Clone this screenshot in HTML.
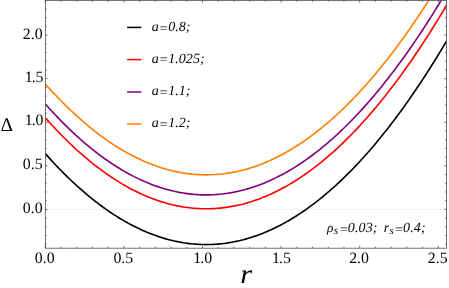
<!DOCTYPE html>
<html><head><meta charset="utf-8"><title>plot</title>
<style>html,body{margin:0;padding:0;background:#fff;overflow:hidden}svg{display:block;text-rendering:geometricPrecision;will-change:transform}</style>
</head><body>
<svg width="449" height="288" viewBox="0 0 449 288">
<defs><clipPath id="c"><rect x="45.35" y="0.4" width="401.05" height="247.80"/></clipPath></defs>
<rect width="449" height="288" fill="#fff"/>
<line x1="45.35" y1="209.4" x2="446.4" y2="209.4" stroke="#ececec" stroke-width="0.7"/>
<g clip-path="url(#c)" fill="none" stroke-width="1.62" stroke-linejoin="round">
<path d="M45.30,153.62 L47.33,155.89 L49.36,158.14 L51.39,160.36 L53.42,162.55 L55.45,164.71 L57.48,166.84 L59.51,168.95 L61.54,171.02 L63.57,173.07 L65.60,175.09 L67.63,177.08 L69.66,179.04 L71.69,180.97 L73.72,182.88 L75.75,184.75 L77.78,186.60 L79.81,188.41 L81.84,190.20 L83.87,191.96 L85.90,193.69 L87.93,195.40 L89.96,197.07 L91.99,198.71 L94.02,200.33 L96.05,201.91 L98.08,203.47 L100.11,205.00 L102.14,206.50 L104.17,207.97 L106.21,209.41 L108.24,210.83 L110.27,212.21 L112.30,213.56 L114.33,214.89 L116.36,216.19 L118.39,217.46 L120.42,218.70 L122.45,219.91 L124.48,221.09 L126.51,222.24 L128.54,223.36 L130.57,224.46 L132.60,225.52 L134.63,226.56 L136.66,227.57 L138.69,228.54 L140.72,229.49 L142.75,230.41 L144.78,231.31 L146.81,232.17 L148.84,233.00 L150.87,233.81 L152.90,234.58 L154.93,235.33 L156.96,236.05 L158.99,236.73 L161.02,237.39 L163.05,238.03 L165.08,238.63 L167.11,239.20 L169.14,239.74 L171.17,240.26 L173.20,240.74 L175.23,241.20 L177.26,241.63 L179.29,242.03 L181.32,242.40 L183.35,242.74 L185.38,243.05 L187.41,243.33 L189.44,243.58 L191.47,243.81 L193.50,244.00 L195.53,244.17 L197.56,244.31 L199.59,244.42 L201.62,244.50 L203.65,244.55 L205.68,244.57 L207.71,244.56 L209.74,244.52 L211.77,244.46 L213.80,244.36 L215.83,244.24 L217.86,244.09 L219.89,243.91 L221.92,243.70 L223.96,243.46 L225.99,243.19 L228.02,242.89 L230.05,242.56 L232.08,242.21 L234.11,241.82 L236.14,241.41 L238.17,240.97 L240.20,240.49 L242.23,239.99 L244.26,239.46 L246.29,238.90 L248.32,238.32 L250.35,237.70 L252.38,237.05 L254.41,236.38 L256.44,235.67 L258.47,234.94 L260.50,234.18 L262.53,233.39 L264.56,232.57 L266.59,231.72 L268.62,230.84 L270.65,229.93 L272.68,229.00 L274.71,228.03 L276.74,227.04 L278.77,226.01 L280.80,224.96 L282.83,223.88 L284.86,222.77 L286.89,221.63 L288.92,220.46 L290.95,219.26 L292.98,218.04 L295.01,216.78 L297.04,215.50 L299.07,214.18 L301.10,212.84 L303.13,211.47 L305.16,210.07 L307.19,208.64 L309.22,207.18 L311.25,205.69 L313.28,204.17 L315.31,202.63 L317.34,201.05 L319.37,199.45 L321.40,197.82 L323.43,196.15 L325.46,194.46 L327.49,192.74 L329.52,190.99 L331.55,189.21 L333.58,187.41 L335.61,185.57 L337.64,183.70 L339.67,181.81 L341.70,179.89 L343.74,177.93 L345.77,175.95 L347.80,173.94 L349.83,171.90 L351.86,169.83 L353.89,167.74 L355.92,165.61 L357.95,163.45 L359.98,161.27 L362.01,159.06 L364.04,156.81 L366.07,154.54 L368.10,152.24 L370.13,149.91 L372.16,147.55 L374.19,145.16 L376.22,142.74 L378.25,140.30 L380.28,137.82 L382.31,135.32 L384.34,132.79 L386.37,130.22 L388.40,127.63 L390.43,125.01 L392.46,122.36 L394.49,119.68 L396.52,116.98 L398.55,114.24 L400.58,111.47 L402.61,108.68 L404.64,105.85 L406.67,103.00 L408.70,100.12 L410.73,97.21 L412.76,94.27 L414.79,91.30 L416.82,88.30 L418.85,85.28 L420.88,82.22 L422.91,79.13 L424.94,76.02 L426.97,72.88 L429.00,69.70 L431.03,66.50 L433.06,63.27 L435.09,60.01 L437.12,56.72 L439.15,53.41 L441.18,50.06 L443.21,46.68 L445.24,43.28 L447.27,39.85 L449.30,36.38" stroke="#000000"/>
<path d="M45.30,117.84 L47.33,120.11 L49.36,122.35 L51.39,124.57 L53.42,126.76 L55.45,128.92 L57.48,131.06 L59.51,133.16 L61.54,135.24 L63.57,137.28 L65.60,139.30 L67.63,141.29 L69.66,143.25 L71.69,145.19 L73.72,147.09 L75.75,148.97 L77.78,150.81 L79.81,152.63 L81.84,154.42 L83.87,156.18 L85.90,157.91 L87.93,159.61 L89.96,161.28 L91.99,162.93 L94.02,164.54 L96.05,166.13 L98.08,167.69 L100.11,169.22 L102.14,170.71 L104.17,172.19 L106.21,173.63 L108.24,175.04 L110.27,176.42 L112.30,177.78 L114.33,179.11 L116.36,180.40 L118.39,181.67 L120.42,182.91 L122.45,184.12 L124.48,185.30 L126.51,186.45 L128.54,187.58 L130.57,188.67 L132.60,189.74 L134.63,190.77 L136.66,191.78 L138.69,192.76 L140.72,193.71 L142.75,194.63 L144.78,195.52 L146.81,196.38 L148.84,197.22 L150.87,198.02 L152.90,198.80 L154.93,199.54 L156.96,200.26 L158.99,200.95 L161.02,201.61 L163.05,202.24 L165.08,202.84 L167.11,203.41 L169.14,203.96 L171.17,204.47 L173.20,204.96 L175.23,205.41 L177.26,205.84 L179.29,206.24 L181.32,206.61 L183.35,206.95 L185.38,207.26 L187.41,207.54 L189.44,207.80 L191.47,208.02 L193.50,208.22 L195.53,208.38 L197.56,208.52 L199.59,208.63 L201.62,208.71 L203.65,208.76 L205.68,208.78 L207.71,208.77 L209.74,208.74 L211.77,208.67 L213.80,208.58 L215.83,208.45 L217.86,208.30 L219.89,208.12 L221.92,207.91 L223.96,207.67 L225.99,207.40 L228.02,207.10 L230.05,206.78 L232.08,206.42 L234.11,206.04 L236.14,205.62 L238.17,205.18 L240.20,204.71 L242.23,204.21 L244.26,203.68 L246.29,203.12 L248.32,202.53 L250.35,201.91 L252.38,201.27 L254.41,200.59 L256.44,199.89 L258.47,199.15 L260.50,198.39 L262.53,197.60 L264.56,196.78 L266.59,195.93 L268.62,195.05 L270.65,194.15 L272.68,193.21 L274.71,192.24 L276.74,191.25 L278.77,190.23 L280.80,189.17 L282.83,188.09 L284.86,186.98 L286.89,185.84 L288.92,184.67 L290.95,183.48 L292.98,182.25 L295.01,180.99 L297.04,179.71 L299.07,178.40 L301.10,177.05 L303.13,175.68 L305.16,174.28 L307.19,172.85 L309.22,171.39 L311.25,169.90 L313.28,168.39 L315.31,166.84 L317.34,165.27 L319.37,163.66 L321.40,162.03 L323.43,160.37 L325.46,158.68 L327.49,156.96 L329.52,155.21 L331.55,153.43 L333.58,151.62 L335.61,149.78 L337.64,147.92 L339.67,146.02 L341.70,144.10 L343.74,142.15 L345.77,140.17 L347.80,138.16 L349.83,136.12 L351.86,134.05 L353.89,131.95 L355.92,129.82 L357.95,127.67 L359.98,125.48 L362.01,123.27 L364.04,121.03 L366.07,118.75 L368.10,116.45 L370.13,114.12 L372.16,111.76 L374.19,109.38 L376.22,106.96 L378.25,104.51 L380.28,102.04 L382.31,99.53 L384.34,97.00 L386.37,94.44 L388.40,91.85 L390.43,89.23 L392.46,86.58 L394.49,83.90 L396.52,81.19 L398.55,78.45 L400.58,75.69 L402.61,72.89 L404.64,70.07 L406.67,67.22 L408.70,64.33 L410.73,61.42 L412.76,58.48 L414.79,55.51 L416.82,52.52 L418.85,49.49 L420.88,46.43 L422.91,43.35 L424.94,40.23 L426.97,37.09 L429.00,33.92 L431.03,30.72 L433.06,27.49 L435.09,24.23 L437.12,20.94 L439.15,17.62 L441.18,14.27 L443.21,10.90 L445.24,7.49 L447.27,4.06 L449.30,0.60" stroke="#ff0000"/>
<path d="M45.30,103.95 L47.33,106.22 L49.36,108.46 L51.39,110.68 L53.42,112.87 L55.45,115.03 L57.48,117.17 L59.51,119.27 L61.54,121.35 L63.57,123.39 L65.60,125.41 L67.63,127.40 L69.66,129.36 L71.69,131.30 L73.72,133.20 L75.75,135.08 L77.78,136.92 L79.81,138.74 L81.84,140.53 L83.87,142.29 L85.90,144.02 L87.93,145.72 L89.96,147.39 L91.99,149.04 L94.02,150.65 L96.05,152.24 L98.08,153.80 L100.11,155.33 L102.14,156.83 L104.17,158.30 L106.21,159.74 L108.24,161.15 L110.27,162.53 L112.30,163.89 L114.33,165.22 L116.36,166.51 L118.39,167.78 L120.42,169.02 L122.45,170.23 L124.48,171.41 L126.51,172.56 L128.54,173.69 L130.57,174.78 L132.60,175.85 L134.63,176.88 L136.66,177.89 L138.69,178.87 L140.72,179.82 L142.75,180.74 L144.78,181.63 L146.81,182.49 L148.84,183.33 L150.87,184.13 L152.90,184.91 L154.93,185.65 L156.96,186.37 L158.99,187.06 L161.02,187.72 L163.05,188.35 L165.08,188.95 L167.11,189.52 L169.14,190.07 L171.17,190.58 L173.20,191.07 L175.23,191.52 L177.26,191.95 L179.29,192.35 L181.32,192.72 L183.35,193.06 L185.38,193.37 L187.41,193.65 L189.44,193.91 L191.47,194.13 L193.50,194.33 L195.53,194.50 L197.56,194.63 L199.59,194.74 L201.62,194.82 L203.65,194.87 L205.68,194.89 L207.71,194.89 L209.74,194.85 L211.77,194.78 L213.80,194.69 L215.83,194.56 L217.86,194.41 L219.89,194.23 L221.92,194.02 L223.96,193.78 L225.99,193.51 L228.02,193.21 L230.05,192.89 L232.08,192.53 L234.11,192.15 L236.14,191.73 L238.17,191.29 L240.20,190.82 L242.23,190.32 L244.26,189.79 L246.29,189.23 L248.32,188.64 L250.35,188.02 L252.38,187.38 L254.41,186.70 L256.44,186.00 L258.47,185.26 L260.50,184.50 L262.53,183.71 L264.56,182.89 L266.59,182.04 L268.62,181.16 L270.65,180.26 L272.68,179.32 L274.71,178.36 L276.74,177.36 L278.77,176.34 L280.80,175.28 L282.83,174.20 L284.86,173.09 L286.89,171.95 L288.92,170.79 L290.95,169.59 L292.98,168.36 L295.01,167.11 L297.04,165.82 L299.07,164.51 L301.10,163.16 L303.13,161.79 L305.16,160.39 L307.19,158.96 L309.22,157.50 L311.25,156.01 L313.28,154.50 L315.31,152.95 L317.34,151.38 L319.37,149.77 L321.40,148.14 L323.43,146.48 L325.46,144.79 L327.49,143.07 L329.52,141.32 L331.55,139.54 L333.58,137.73 L335.61,135.89 L337.64,134.03 L339.67,132.14 L341.70,130.21 L343.74,128.26 L345.77,126.28 L347.80,124.27 L349.83,122.23 L351.86,120.16 L353.89,118.06 L355.92,115.93 L357.95,113.78 L359.98,111.59 L362.01,109.38 L364.04,107.14 L366.07,104.86 L368.10,102.56 L370.13,100.23 L372.16,97.87 L374.19,95.49 L376.22,93.07 L378.25,90.62 L380.28,88.15 L382.31,85.64 L384.34,83.11 L386.37,80.55 L388.40,77.96 L390.43,75.34 L392.46,72.69 L394.49,70.01 L396.52,67.30 L398.55,64.56 L400.58,61.80 L402.61,59.00 L404.64,56.18 L406.67,53.33 L408.70,50.44 L410.73,47.53 L412.76,44.59 L414.79,41.62 L416.82,38.63 L418.85,35.60 L420.88,32.54 L422.91,29.46 L424.94,26.34 L426.97,23.20 L429.00,20.03 L431.03,16.83 L433.06,13.60 L435.09,10.34 L437.12,7.05 L439.15,3.73 L441.18,0.38 L443.21,-2.99 L445.24,-6.40 L447.27,-9.83 L449.30,-13.29" stroke="#800080"/>
<path d="M45.30,83.90 L47.33,86.17 L49.36,88.42 L51.39,90.64 L53.42,92.83 L55.45,94.99 L57.48,97.12 L59.51,99.23 L61.54,101.30 L63.57,103.35 L65.60,105.37 L67.63,107.36 L69.66,109.32 L71.69,111.25 L73.72,113.16 L75.75,115.03 L77.78,116.88 L79.81,118.69 L81.84,120.48 L83.87,122.24 L85.90,123.97 L87.93,125.68 L89.96,127.35 L91.99,128.99 L94.02,130.61 L96.05,132.19 L98.08,133.75 L100.11,135.28 L102.14,136.78 L104.17,138.25 L106.21,139.69 L108.24,141.11 L110.27,142.49 L112.30,143.84 L114.33,145.17 L116.36,146.47 L118.39,147.74 L120.42,148.98 L122.45,150.19 L124.48,151.37 L126.51,152.52 L128.54,153.64 L130.57,154.74 L132.60,155.80 L134.63,156.84 L136.66,157.85 L138.69,158.82 L140.72,159.77 L142.75,160.69 L144.78,161.59 L146.81,162.45 L148.84,163.28 L150.87,164.09 L152.90,164.86 L154.93,165.61 L156.96,166.33 L158.99,167.01 L161.02,167.67 L163.05,168.31 L165.08,168.91 L167.11,169.48 L169.14,170.02 L171.17,170.54 L173.20,171.02 L175.23,171.48 L177.26,171.91 L179.29,172.31 L181.32,172.68 L183.35,173.02 L185.38,173.33 L187.41,173.61 L189.44,173.86 L191.47,174.09 L193.50,174.28 L195.53,174.45 L197.56,174.59 L199.59,174.70 L201.62,174.78 L203.65,174.83 L205.68,174.85 L207.71,174.84 L209.74,174.80 L211.77,174.74 L213.80,174.64 L215.83,174.52 L217.86,174.37 L219.89,174.19 L221.92,173.98 L223.96,173.74 L225.99,173.47 L228.02,173.17 L230.05,172.84 L232.08,172.49 L234.11,172.10 L236.14,171.69 L238.17,171.25 L240.20,170.77 L242.23,170.27 L244.26,169.74 L246.29,169.18 L248.32,168.60 L250.35,167.98 L252.38,167.33 L254.41,166.66 L256.44,165.95 L258.47,165.22 L260.50,164.46 L262.53,163.67 L264.56,162.85 L266.59,162.00 L268.62,161.12 L270.65,160.21 L272.68,159.28 L274.71,158.31 L276.74,157.32 L278.77,156.29 L280.80,155.24 L282.83,154.16 L284.86,153.05 L286.89,151.91 L288.92,150.74 L290.95,149.54 L292.98,148.32 L295.01,147.06 L297.04,145.78 L299.07,144.46 L301.10,143.12 L303.13,141.75 L305.16,140.35 L307.19,138.92 L309.22,137.46 L311.25,135.97 L313.28,134.45 L315.31,132.91 L317.34,131.33 L319.37,129.73 L321.40,128.10 L323.43,126.43 L325.46,124.74 L327.49,123.02 L329.52,121.27 L331.55,119.49 L333.58,117.69 L335.61,115.85 L337.64,113.98 L339.67,112.09 L341.70,110.17 L343.74,108.21 L345.77,106.23 L347.80,104.22 L349.83,102.18 L351.86,100.11 L353.89,98.02 L355.92,95.89 L357.95,93.73 L359.98,91.55 L362.01,89.34 L364.04,87.09 L366.07,84.82 L368.10,82.52 L370.13,80.19 L372.16,77.83 L374.19,75.44 L376.22,73.02 L378.25,70.58 L380.28,68.10 L382.31,65.60 L384.34,63.07 L386.37,60.50 L388.40,57.91 L390.43,55.29 L392.46,52.64 L394.49,49.96 L396.52,47.26 L398.55,44.52 L400.58,41.75 L402.61,38.96 L404.64,36.13 L406.67,33.28 L408.70,30.40 L410.73,27.49 L412.76,24.55 L414.79,21.58 L416.82,18.58 L418.85,15.56 L420.88,12.50 L422.91,9.41 L424.94,6.30 L426.97,3.16 L429.00,-0.02 L431.03,-3.22 L433.06,-6.45 L435.09,-9.71 L437.12,-13.00 L439.15,-16.31 L441.18,-19.66 L443.21,-23.04 L445.24,-26.44 L447.27,-29.87 L449.30,-33.34" stroke="#ff8000"/>
</g>
<rect x="45.35" y="0.4" width="401.05" height="247.80" fill="none" stroke="#505050" stroke-width="0.8"/>
<path d="M45.30,248.2v-2.3M45.30,0.4v2.3M61.02,248.2v-1.4M61.02,0.4v1.4M76.74,248.2v-1.4M76.74,0.4v1.4M92.46,248.2v-1.4M92.46,0.4v1.4M108.18,248.2v-1.4M108.18,0.4v1.4M123.90,248.2v-2.3M123.90,0.4v2.3M139.62,248.2v-1.4M139.62,0.4v1.4M155.34,248.2v-1.4M155.34,0.4v1.4M171.06,248.2v-1.4M171.06,0.4v1.4M186.78,248.2v-1.4M186.78,0.4v1.4M202.50,248.2v-2.3M202.50,0.4v2.3M218.22,248.2v-1.4M218.22,0.4v1.4M233.94,248.2v-1.4M233.94,0.4v1.4M249.66,248.2v-1.4M249.66,0.4v1.4M265.38,248.2v-1.4M265.38,0.4v1.4M281.10,248.2v-2.3M281.10,0.4v2.3M296.82,248.2v-1.4M296.82,0.4v1.4M312.54,248.2v-1.4M312.54,0.4v1.4M328.26,248.2v-1.4M328.26,0.4v1.4M343.98,248.2v-1.4M343.98,0.4v1.4M359.70,248.2v-2.3M359.70,0.4v2.3M375.42,248.2v-1.4M375.42,0.4v1.4M391.14,248.2v-1.4M391.14,0.4v1.4M406.86,248.2v-1.4M406.86,0.4v1.4M422.58,248.2v-1.4M422.58,0.4v1.4M438.30,248.2v-2.3M438.30,0.4v2.3M45.35,244.26h1.4M446.4,244.26h-1.4M45.35,235.55h1.4M446.4,235.55h-1.4M45.35,226.83h1.4M446.4,226.83h-1.4M45.35,218.12h1.4M446.4,218.12h-1.4M45.35,209.40h2.3M446.4,209.40h-2.3M45.35,200.69h1.4M446.4,200.69h-1.4M45.35,191.97h1.4M446.4,191.97h-1.4M45.35,183.25h1.4M446.4,183.25h-1.4M45.35,174.54h1.4M446.4,174.54h-1.4M45.35,165.82h2.3M446.4,165.82h-2.3M45.35,157.11h1.4M446.4,157.11h-1.4M45.35,148.40h1.4M446.4,148.40h-1.4M45.35,139.68h1.4M446.4,139.68h-1.4M45.35,130.97h1.4M446.4,130.97h-1.4M45.35,122.25h2.3M446.4,122.25h-2.3M45.35,113.53h1.4M446.4,113.53h-1.4M45.35,104.82h1.4M446.4,104.82h-1.4M45.35,96.10h1.4M446.4,96.10h-1.4M45.35,87.39h1.4M446.4,87.39h-1.4M45.35,78.67h2.3M446.4,78.67h-2.3M45.35,69.96h1.4M446.4,69.96h-1.4M45.35,61.25h1.4M446.4,61.25h-1.4M45.35,52.53h1.4M446.4,52.53h-1.4M45.35,43.81h1.4M446.4,43.81h-1.4M45.35,35.10h2.3M446.4,35.10h-2.3M45.35,26.38h1.4M446.4,26.38h-1.4M45.35,17.67h1.4M446.4,17.67h-1.4M45.35,8.96h1.4M446.4,8.96h-1.4" stroke="#222" stroke-width="0.6" fill="none"/>
<g font-family="'Liberation Serif', serif" font-size="15.8" fill="#000">
<text x="44.70" y="262.5" text-anchor="middle">0.0</text>
<text x="123.30" y="262.5" text-anchor="middle">0.5</text>
<text x="201.90" y="262.5" text-anchor="middle"><tspan dx="0.9">1</tspan><tspan dx="-0.9">.0</tspan></text>
<text x="280.50" y="262.5" text-anchor="middle"><tspan dx="0.9">1</tspan><tspan dx="-0.9">.5</tspan></text>
<text x="359.10" y="262.5" text-anchor="middle">2.0</text>
<text x="437.70" y="262.5" text-anchor="middle">2.5</text>
<text x="42.6" y="212.7" text-anchor="end">0.0</text>
<text x="42.6" y="169.4" text-anchor="end">0.5</text>
<text x="42.6" y="125.4" text-anchor="end"><tspan dx="0.9">1</tspan><tspan dx="-0.9">.0</tspan></text>
<text x="42.6" y="82.3" text-anchor="end"><tspan dx="0.9">1</tspan><tspan dx="-0.9">.5</tspan></text>
<text x="42.6" y="39.1" text-anchor="end">2.0</text>
</g>
<text x="0.6" y="131" font-family="'Liberation Serif', serif" font-size="19.4" fill="#000">Δ</text>
<text transform="translate(246.4 0) scale(1.12 1) translate(-246 0)" x="240.5" y="283.3" font-family="'Liberation Serif', serif" font-style="italic" font-size="27.2" fill="#000">r</text>
<line x1="127.1" y1="27.4" x2="141.35" y2="27.4" stroke="#000000" stroke-width="1.5"/>
<text x="151.8" y="31.0" font-family="'Liberation Serif', serif" font-style="italic" font-size="14.05" fill="#000">a<tspan dy="1.5">=</tspan><tspan dy="-1.5">0.8;</tspan></text>
<line x1="127.1" y1="59.6" x2="141.35" y2="59.6" stroke="#ff0000" stroke-width="1.5"/>
<text x="151.8" y="62.9" font-family="'Liberation Serif', serif" font-style="italic" font-size="14.05" fill="#000">a<tspan dy="1.5">=</tspan><tspan dy="-1.5">1.025;</tspan></text>
<line x1="127.1" y1="92.0" x2="141.35" y2="92.0" stroke="#800080" stroke-width="1.5"/>
<text x="151.8" y="95.1" font-family="'Liberation Serif', serif" font-style="italic" font-size="14.05" fill="#000">a<tspan dy="1.5">=</tspan><tspan dy="-1.5">1.1;</tspan></text>
<line x1="127.1" y1="124.0" x2="141.35" y2="124.0" stroke="#ff8000" stroke-width="1.5"/>
<text x="151.8" y="127.1" font-family="'Liberation Serif', serif" font-style="italic" font-size="14.05" fill="#000">a<tspan dy="1.5">=</tspan><tspan dy="-1.5">1.2;</tspan></text>
<text x="327.0" y="231.6" font-size="13.2" font-family="'Liberation Serif', serif" font-style="italic" fill="#000">ρ</text>
<text x="333.7" y="233.5" font-size="11.3" font-family="'Liberation Serif', serif" font-style="italic" fill="#000">s</text>
<text x="339.0" y="232.3" font-size="14.05" font-family="'Liberation Serif', serif" font-style="italic" fill="#000"><tspan dy="1.5">=</tspan><tspan dy="-1.5" dx="-0.7" letter-spacing="0.12">0.03;</tspan></text>
<text x="383.8" y="232.0" font-size="14.05" font-family="'Liberation Serif', serif" font-style="italic" fill="#000">r</text>
<text x="389.6" y="233.5" font-size="10.8" font-family="'Liberation Serif', serif" font-style="italic" fill="#000">s</text>
<text x="394.2" y="232.3" font-size="14.05" font-family="'Liberation Serif', serif" font-style="italic" fill="#000"><tspan dy="1.5">=</tspan><tspan dy="-1.5" dx="-0.7" letter-spacing="0.12">0.4;</tspan></text>
</svg>
</body></html>
